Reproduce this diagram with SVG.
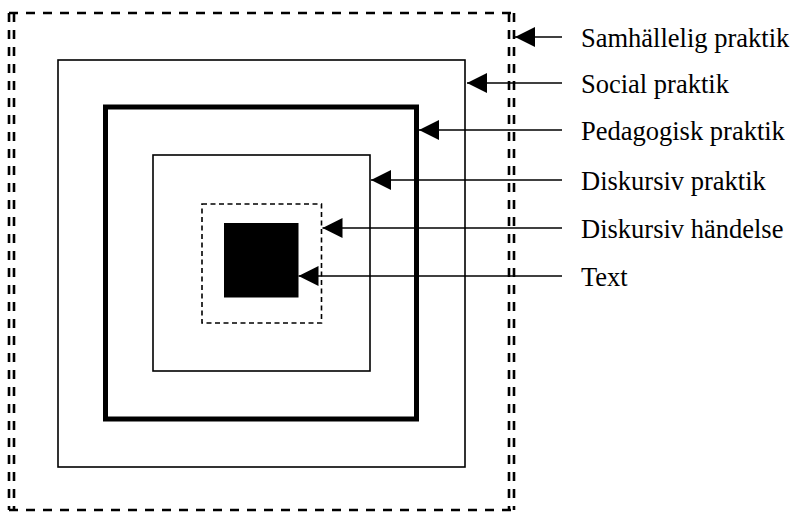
<svg xmlns="http://www.w3.org/2000/svg" width="793" height="515" viewBox="0 0 793 515">
<style>
.frame{fill:none;stroke:#000}
.dbl{fill:none;stroke:#000;stroke-width:2.6;stroke-dasharray:9 8}
.lbl{font-family:"Liberation Serif","Times New Roman",serif;font-size:26.5px;fill:#000}
.conn{stroke:#000;stroke-width:1.6;fill:none}
</style>
<defs>
<marker id="ah" markerUnits="userSpaceOnUse" markerWidth="21" markerHeight="20" refX="20" refY="10" orient="auto">
<path d="M0,0 L20,10 L0,20 Z" fill="#000"/>
</marker>
</defs>
<rect width="793" height="515" fill="#fff"/>
<g id="samhallelig">
<path class="dbl" d="M9,13 H514"/>
<path class="dbl" d="M9,510 H514"/>
<path class="dbl" d="M9,13 V510 M14,13 V510 M509,13 V510 M514,13 V510"/>
<text class="lbl" x="581" y="47">Samhällelig praktik</text>
</g>
<g id="social">
<rect class="frame" x="58" y="60" width="407" height="407" stroke-width="1.6"/>
<text class="lbl" x="581" y="93">Social praktik</text>
</g>
<g id="pedagogisk">
<rect class="frame" x="105.5" y="107" width="311" height="312" stroke-width="5"/>
<text class="lbl" x="581" y="140">Pedagogisk praktik</text>
</g>
<g id="diskursivpraktik">
<rect class="frame" x="153" y="155" width="217" height="216" stroke-width="1.6"/>
<text class="lbl" x="581" y="190">Diskursiv praktik</text>
</g>
<g id="diskursivhandelse">
<rect class="frame" x="202" y="204" width="119.5" height="119" stroke-width="1.6" stroke-dasharray="5 3.5"/>
<text class="lbl" x="581" y="238">Diskursiv händelse</text>
</g>
<g id="text">
<rect x="224" y="223" width="74.5" height="74.5" fill="#000"/>
<text class="lbl" x="581" y="286">Text</text>
</g>
<g id="connectors">
<line class="conn" x1="562" y1="37" x2="515" y2="37" marker-end="url(#ah)"/>
<line class="conn" x1="562" y1="83" x2="467" y2="83" marker-end="url(#ah)"/>
<line class="conn" x1="562" y1="130" x2="419" y2="130" marker-end="url(#ah)"/>
<line class="conn" x1="562" y1="180" x2="371" y2="180" marker-end="url(#ah)"/>
<line class="conn" x1="562" y1="228" x2="322.5" y2="228" marker-end="url(#ah)"/>
<line class="conn" x1="562" y1="276" x2="298.5" y2="276" marker-end="url(#ah)"/>
</g>
</svg>
